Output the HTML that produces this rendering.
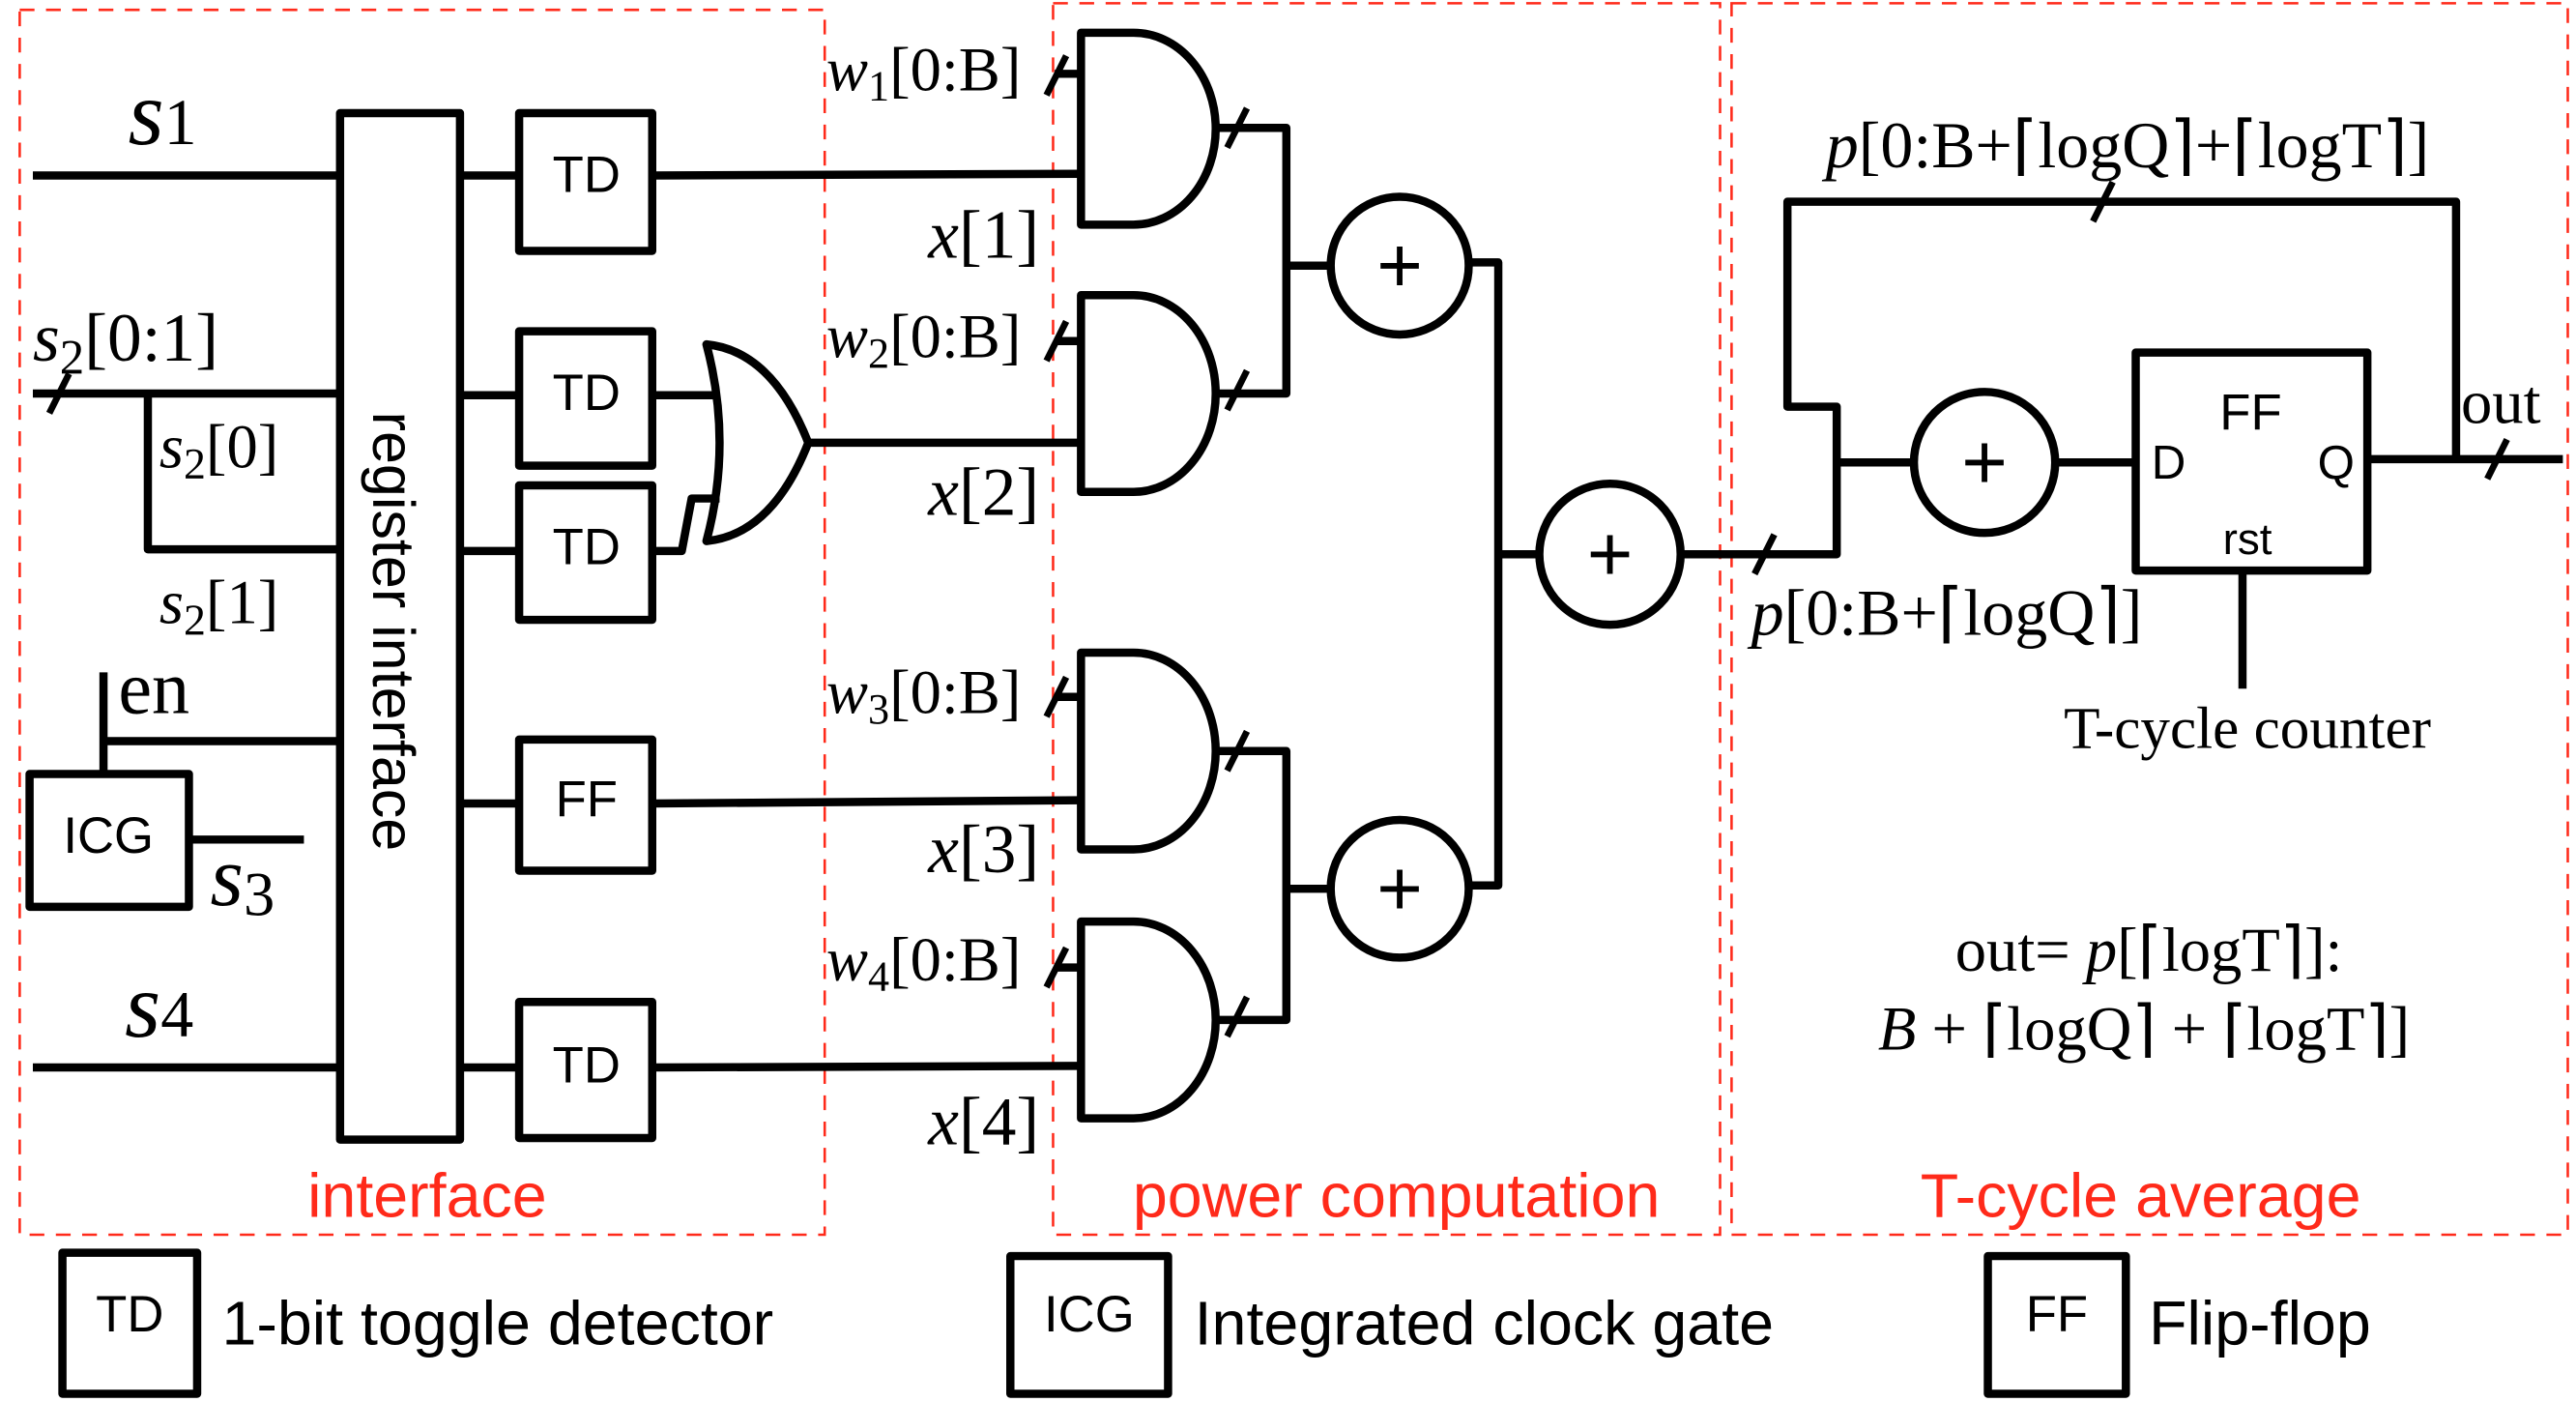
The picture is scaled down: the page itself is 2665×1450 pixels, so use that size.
<!DOCTYPE html>
<html><head><meta charset="utf-8"><style>
html,body{margin:0;padding:0;background:#fff;}
svg{display:block;}
.m{font-family:"Liberation Serif",serif;fill:#000;}
.i{font-style:italic;}
.s{font-family:"Liberation Sans",sans-serif;fill:#000;}
.r{font-family:"Liberation Sans",sans-serif;fill:#ff2a1a;font-size:38px;}
</style></head><body>
<svg width="2665" height="1450" viewBox="0 0 1568 855" preserveAspectRatio="none" xmlns="http://www.w3.org/2000/svg">
<g fill="none" stroke="#ff2a1a" stroke-width="1.5" stroke-dasharray="9,7">
<rect x="12" y="6" width="490" height="747"/>
<rect x="641" y="2" width="406" height="751"/>
<rect x="1054" y="2" width="509" height="751"/>
</g>
<text class="r" x="260" y="742" text-anchor="middle">interface</text>
<text class="r" x="850" y="742" text-anchor="middle">power computation</text>
<text class="r" x="1303" y="742" text-anchor="middle">T-cycle average</text>

<g fill="none" stroke="#000" stroke-width="5" stroke-linejoin="round">
<rect x="207" y="69" width="73" height="626" fill="#fff"/>
<rect x="316" y="69" width="81" height="84"/>
<rect x="316" y="202" width="81" height="82"/>
<rect x="316" y="296" width="81" height="82"/>
<rect x="316" y="451" width="81" height="80"/>
<rect x="316" y="611" width="81" height="83"/>
<rect x="18" y="472" width="97" height="81"/>
<path d="M20 107H207M20 240H207M90 240V335H207M63 410V470M63 452H207M115 512H185M20 651H207"/>
<path d="M280 107H316M280 241H316M280 336H316M280 490H316M280 651H316"/>
<path d="M397 107L658 106M397 241H436M397 336H415L421 304H438M397 490L658 488M397 651L658 650M492 270H658"/>
<path d="M430 210Q470 214 492 270Q470 326 430 330Q446 270 430 210Z"/>
<path d="M658 20H690A50 58.5 0 0 1 690 137H658Z"/>
<path d="M658 180H690A50 60 0 0 1 690 300H658Z"/>
<path d="M658 398H690A50 60 0 0 1 690 518H658Z"/>
<path d="M658 562H690A50 60 0 0 1 690 682H658Z"/>
<path d="M642 45H658M642 208H658M642 425H658M642 590H658"/>
<path d="M740 78H783V240H740M783 162H810M740 458H783V622H740M783 542H810"/>
<circle cx="852" cy="162" r="42"/>
<circle cx="852" cy="542" r="42"/>
<circle cx="980" cy="338" r="43"/>
<path d="M894 160H912V540H894M912 338H937"/>
<path d="M1023 338H1118V248H1088V123H1495V280M1118 282H1165"/>
<circle cx="1208" cy="282" r="43"/>
<path d="M1251 282H1300"/>
<rect x="1300" y="215" width="141" height="133"/>
<path d="M1441 280H1560M1365 348V420"/>
<rect x="38" y="764" width="82" height="86"/>
<rect x="615" y="766" width="96" height="84"/>
<rect x="1210" y="766" width="84" height="84"/>
</g>
<g stroke="#000" stroke-width="4">
<path d="M30 252L42 228M637 58L649 34M637 220L649 196M637 437L649 413M637 602L649 578M747 90L759 66M747 250L759 226M747 470L759 446M747 632L759 608M1068 350L1080 326M1274 135L1286 111M1514 292L1526 268"/>
</g>
<text class="s" x="357" y="117" font-size="31" text-anchor="middle">TD</text>
<text class="s" x="357" y="250" font-size="31" text-anchor="middle">TD</text>
<text class="s" x="357" y="344" font-size="31" text-anchor="middle">TD</text>
<text class="s" x="357" y="498" font-size="31" text-anchor="middle">FF</text>
<text class="s" x="357" y="660" font-size="31" text-anchor="middle">TD</text>
<text class="s" x="66" y="520" font-size="31" text-anchor="middle">ICG</text>
<text class="s" x="0" y="0" font-size="36" text-anchor="middle" transform="translate(227,385) rotate(90)">register interface</text>
<text class="s" x="1370" y="262" font-size="31" text-anchor="middle">FF</text>
<text class="s" x="1320" y="292" font-size="29" text-anchor="middle">D</text>
<text class="s" x="1422" y="292" font-size="29" text-anchor="middle">Q</text>
<text class="s" x="1368" y="338" font-size="27" text-anchor="middle">rst</text>
<text class="s" x="79" y="812" font-size="31" text-anchor="middle">TD</text>
<text class="s" x="663" y="812" font-size="31" text-anchor="middle">ICG</text>
<text class="s" x="1252" y="812" font-size="31" text-anchor="middle">FF</text>
<text class="s" x="135" y="820" font-size="38">1-bit toggle detector</text>
<text class="s" x="727" y="820" font-size="38">Integrated clock gate</text>
<text class="s" x="1308" y="820" font-size="38">Flip-flop</text>
<text class="s" x="852" y="178" font-size="48" text-anchor="middle">+</text>
<text class="s" x="852" y="558" font-size="48" text-anchor="middle">+</text>
<text class="s" x="980" y="354" font-size="48" text-anchor="middle">+</text>
<text class="s" x="1208" y="298" font-size="48" text-anchor="middle">+</text>

<text class="m" x="78" y="88" style="font-size:56px"><tspan class="i">s</tspan><tspan style="font-size:40px">1</tspan></text>
<text class="m" x="20" y="220" style="font-size:42px"><tspan class="i">s</tspan><tspan style="font-size:30px" dy="8">2</tspan><tspan dy="-8">[0:1]</tspan></text>
<text class="m" x="97" y="285" style="font-size:38px"><tspan class="i">s</tspan><tspan style="font-size:27px" dy="7">2</tspan><tspan dy="-7">[0]</tspan></text>
<text class="m" x="97" y="380" style="font-size:38px"><tspan class="i">s</tspan><tspan style="font-size:27px" dy="7">2</tspan><tspan dy="-7">[1]</tspan></text>
<text class="m" x="72" y="435" style="font-size:46px">en</text>
<text class="m" x="128" y="552" style="font-size:52px"><tspan class="i">s</tspan><tspan style="font-size:38px" dy="6">3</tspan></text>
<text class="m" x="76" y="632" style="font-size:56px"><tspan class="i">s</tspan><tspan style="font-size:40px">4</tspan></text>

<text class="m" x="503" y="55" style="font-size:38px"><tspan class="i">w</tspan><tspan style="font-size:26px" dy="6">1</tspan><tspan dy="-6">[0:B]</tspan></text>
<text class="m" x="503" y="218" style="font-size:38px"><tspan class="i">w</tspan><tspan style="font-size:26px" dy="6">2</tspan><tspan dy="-6">[0:B]</tspan></text>
<text class="m" x="503" y="435" style="font-size:38px"><tspan class="i">w</tspan><tspan style="font-size:26px" dy="6">3</tspan><tspan dy="-6">[0:B]</tspan></text>
<text class="m" x="503" y="598" style="font-size:38px"><tspan class="i">w</tspan><tspan style="font-size:26px" dy="6">4</tspan><tspan dy="-6">[0:B]</tspan></text>
<text class="m" x="565" y="157" style="font-size:42px"><tspan class="i">x</tspan>[1]</text>
<text class="m" x="565" y="314" style="font-size:42px"><tspan class="i">x</tspan>[2]</text>
<text class="m" x="565" y="532" style="font-size:42px"><tspan class="i">x</tspan>[3]</text>
<text class="m" x="565" y="698" style="font-size:42px"><tspan class="i">x</tspan>[4]</text>

<text class="m" x="1295" y="102" style="font-size:40px" text-anchor="middle"><tspan class="i">p</tspan>[0:B+⌈logQ⌉+⌈logT⌉]</text>
<text class="m" x="1185" y="387" style="font-size:40px" text-anchor="middle"><tspan class="i">p</tspan>[0:B+⌈logQ⌉]</text>
<text class="m" x="1498" y="258" style="font-size:38px">out</text>
<text class="m" x="1368" y="456" style="font-size:36px" text-anchor="middle">T-cycle counter</text>
<text class="m" x="1308" y="592" style="font-size:38px" text-anchor="middle">out= <tspan class="i">p</tspan>[⌈logT⌉]:</text>
<text class="m" x="1305" y="640" style="font-size:38px" text-anchor="middle"><tspan class="i">B</tspan> + ⌈logQ⌉ + ⌈logT⌉]</text>
</svg>
</body></html>
